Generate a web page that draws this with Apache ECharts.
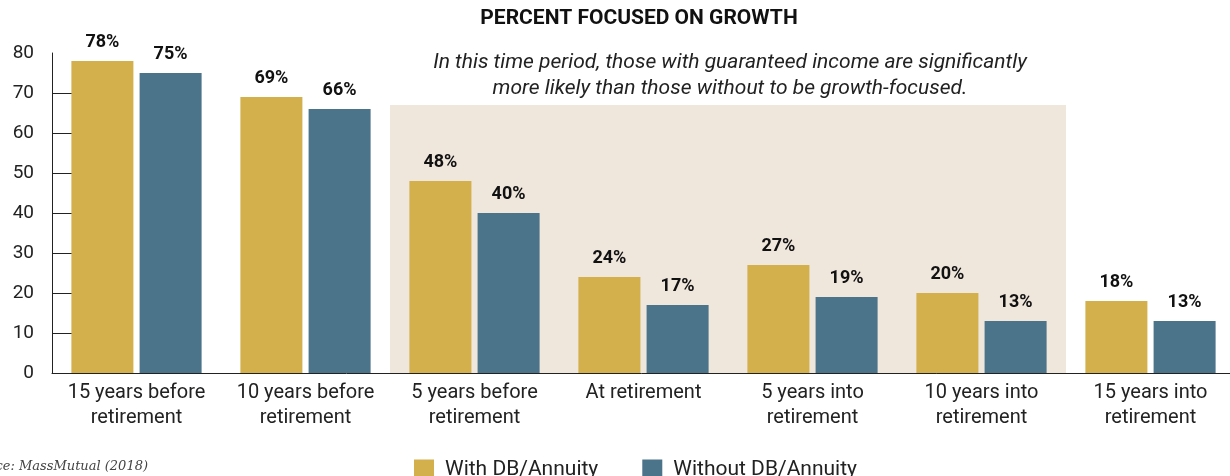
<!DOCTYPE html>
<html>
<head>
<meta charset="utf-8">
<script src="https://cdn.jsdelivr.net/npm/echarts@6/dist/echarts.min.js"></script>
<style>
html,body{margin:0;padding:0;background:#fff;}
#chart{width:1230px;height:476px;}
</style>
</head>
<body>
<div id="chart"></div>
<script>
var categories = ['15 years before\nretirement', '10 years before\nretirement', '5 years before\nretirement', 'At retirement', '5 years into\nretirement', '10 years into\nretirement', '15 years into\nretirement'];
var withDB = [78, 69, 48, 24, 27, 20, 18];
var withoutDB = [75, 66, 40, 17, 19, 13, 13];
var yTickValues = [10, 20, 30, 40, 50, 60, 70];
var seriesNames = ['With DB/Annuity', 'Without DB/Annuity'];
var titleText = 'PERCENT FOCUSED ON GROWTH';
var noteText = 'In this time period, those with guaranteed income are significantly\nmore likely than those without to be growth-focused.';
var sourceText = 'Source: MassMutual (2018)';
// shaded period: category index range [2, 6) and its top value
var shadeRange = [2, 6];
var shadeTop = 67;

var FONT = 'Roboto';
var chart = echarts.init(document.getElementById('chart'));
var labelCfg = {
  show: true, position: 'top', distance: 10,
  formatter: '{c}%', fontFamily: FONT, fontWeight: 'bold', fontSize: 18, color: '#111'
};
chart.setOption({
  animation: false,
  backgroundColor: '#fff',
  grid: { left: 52, width: 1183, top: 53, height: 320, outerBoundsMode: 'none', containLabel: false },
  xAxis: [{
    type: 'category',
    data: categories,
    axisLine: { lineStyle: { color: '#222', width: 1 } },
    axisTick: { inside: true, length: 7, lineStyle: { color: '#222' } },
    axisLabel: { fontFamily: FONT, fontSize: 20, color: '#222', lineHeight: 25, margin: 7, interval: 0 }
  }, {
    type: 'value', min: 0, max: categories.length, show: false
  }],
  yAxis: {
    type: 'value', min: 0, max: 80, interval: 10,
    axisLine: { show: true, lineStyle: { color: '#222', width: 1 } },
    axisTick: { show: true, inside: true, length: 20, customValues: yTickValues, lineStyle: { color: '#222' } },
    splitLine: { show: false },
    axisLabel: { fontFamily: FONT, fontSize: 19, color: '#222', margin: 18 }
  },
  legend: {
    data: seriesNames,
    left: 409, top: 454,
    itemWidth: 20, itemHeight: 20, itemGap: 44,
    icon: 'rect',
    textStyle: { fontFamily: FONT, fontSize: 21, color: '#222', padding: [0, 0, 0, 6] }
  },
  series: [{
    type: 'line', xAxisIndex: 1, yAxisIndex: 0, data: [], silent: true, z: 0,
    markArea: {
      silent: true,
      itemStyle: { color: '#EFE6DC' },
      data: [[{ coord: [shadeRange[0], 0] }, { coord: [shadeRange[1], shadeTop] }]]
    }
  }, {
    name: seriesNames[0], type: 'bar', data: withDB, z: 3,
    barWidth: 62, barGap: '10%',
    itemStyle: { color: '#D3B04C' },
    label: labelCfg
  }, {
    name: seriesNames[1], type: 'bar', data: withoutDB, z: 3,
    barWidth: 62, barGap: '10%',
    itemStyle: { color: '#4B7389' },
    label: labelCfg
  }],
  graphic: [{
    type: 'text', x: 639, y: 8, z: 10,
    style: { text: titleText, fontFamily: FONT, fontSize: 21, fontWeight: 'bold', fill: '#111', align: 'center' }
  }, {
    type: 'text', x: 730, y: 50, z: 10,
    style: { text: noteText, fontFamily: FONT, fontSize: 21, fontStyle: 'italic', fill: '#222', align: 'center', lineHeight: 26 }
  }, {
    type: 'text', x: 148, y: 460, z: 10,
    style: { text: sourceText, fontFamily: 'DejaVu Serif', fontSize: 13, fontStyle: 'italic', fill: '#444', align: 'right' }
  }]
});
</script>
</body>
</html>
